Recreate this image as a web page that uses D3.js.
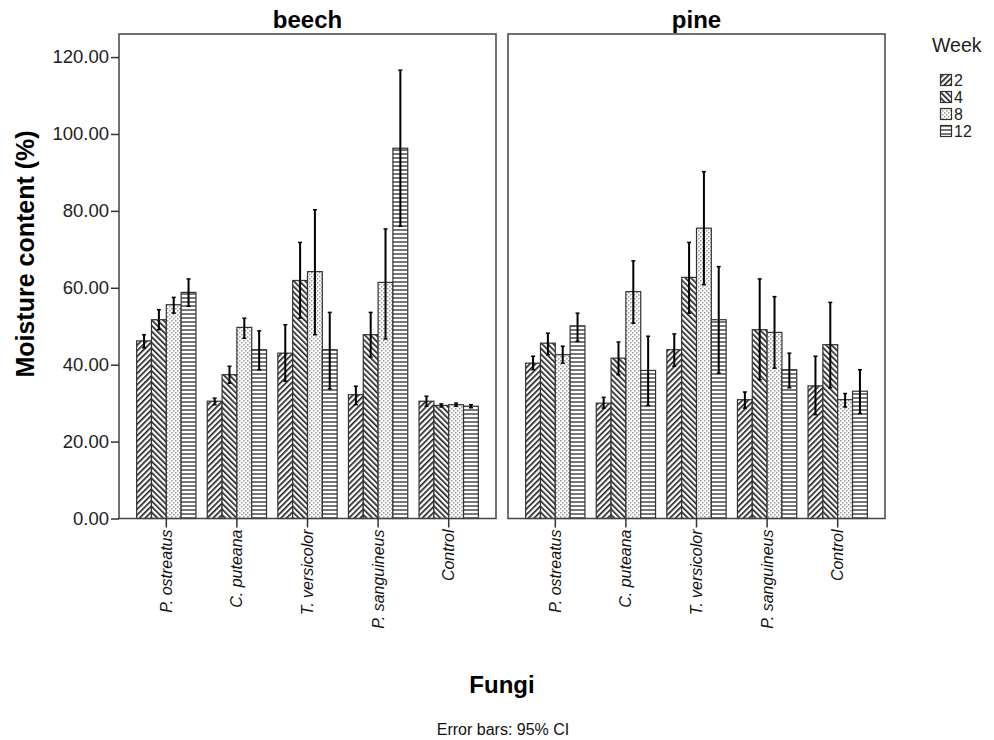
<!DOCTYPE html>
<html>
<head>
<meta charset="utf-8">
<script src="https://cdn.jsdelivr.net/npm/d3@7"></script>
<style>
  html, body { margin: 0; padding: 0; background: #fff; }
  svg { display: block; font-family: "Liberation Sans", Arial, sans-serif; }
</style>
</head>
<body>
<svg id="chart" width="994" height="740"></svg>
<script>
// Moisture content of beech and pine wood exposed to four fungi (plus control), by week
const fungi = ["P. ostreatus", "C. puteana", "T. versicolor", "P. sanguineus", "Control"];
const weeks = ["2", "4", "8", "12"];
const woods = ["beech", "pine"];
const yTicks = [0, 20, 40, 60, 80, 100, 120];

// rows: weeks 2, 4, 8, 12; columns follow `fungi`
const beechMean = [
  [46.2, 30.5, 43.0, 32.2, 30.5],
  [51.7, 37.4, 61.9, 47.8, 29.4],
  [55.6, 49.7, 64.2, 61.4, 29.6],
  [58.8, 43.9, 43.9, 96.3, 29.2]
];
const beechLow = [
  [44.4, 29.6, 35.7, 29.6, 29.2],
  [49.1, 35.2, 52.1, 42.0, 29.0],
  [53.4, 46.9, 47.8, 46.7, 29.2],
  [55.2, 38.7, 33.7, 76.0, 28.8]
];
const beechHigh = [
  [47.8, 31.3, 50.4, 34.4, 31.8],
  [54.3, 39.6, 71.8, 53.6, 29.8],
  [57.5, 52.1, 80.3, 75.3, 30.0],
  [62.3, 48.8, 53.6, 116.6, 29.6]
];
const pineMean = [
  [40.4, 30.0, 43.9, 30.9, 34.5],
  [45.6, 41.7, 62.7, 49.1, 45.2],
  [42.6, 59.0, 75.5, 48.4, 30.9],
  [50.1, 38.5, 51.7, 38.7, 33.1]
];
const pineLow = [
  [38.7, 28.7, 39.6, 28.7, 27.0],
  [42.6, 37.4, 53.4, 36.1, 34.0],
  [40.4, 50.8, 60.8, 39.1, 29.0],
  [46.1, 29.4, 37.8, 34.0, 27.3]
];
const pineHigh = [
  [42.2, 31.5, 48.0, 32.9, 42.2],
  [48.2, 45.9, 71.8, 62.3, 56.2],
  [44.8, 67.0, 90.2, 57.7, 32.5],
  [53.4, 47.4, 65.5, 43.0, 38.7]
];

const panelData = {
  beech: { mean: beechMean, low: beechLow, high: beechHigh },
  pine: { mean: pineMean, low: pineLow, high: pineHigh }
};

const svg = d3.select("#chart");

// ---- fill patterns, one per week ----
const defs = svg.append("defs");
function hatch(id, angle) {
  const s = 4;
  const p = defs.append("pattern")
    .attr("id", id).attr("patternUnits", "userSpaceOnUse")
    .attr("width", s).attr("height", s)
    .attr("patternTransform", `rotate(${angle})`);
  p.append("rect").attr("width", s).attr("height", s).attr("fill", "#fff");
  p.append("rect").attr("x", 0).attr("width", 1.6).attr("height", s).attr("fill", "#1a1a1a");
}
hatch("pat-w2", 45);
hatch("pat-w4", -45);
{
  const p = defs.append("pattern")
    .attr("id", "pat-w8").attr("patternUnits", "userSpaceOnUse")
    .attr("width", 4).attr("height", 4);
  p.append("rect").attr("width", 4).attr("height", 4).attr("fill", "#fff");
  p.append("rect").attr("x", 0).attr("y", 0).attr("width", 1.5).attr("height", 1.5).attr("fill", "#999");
  p.append("rect").attr("x", 2).attr("y", 2).attr("width", 1.5).attr("height", 1.5).attr("fill", "#999");
}
{
  const p = defs.append("pattern")
    .attr("id", "pat-w12").attr("patternUnits", "userSpaceOnUse")
    .attr("width", 4).attr("height", 4);
  p.append("rect").attr("width", 4).attr("height", 4).attr("fill", "#fff");
  p.append("rect").attr("y", 1).attr("width", 4).attr("height", 2).attr("fill", "#777");
}
const patternFor = w => `url(#pat-w${w})`;

// ---- layout ----
const panelW = 377;
const panelTop = 34;
const panelBottom = 518.5;
const panelLeft = { beech: 119, pine: 508 };

const y = d3.scaleLinear().domain([0, 126]).range([panelBottom, panelTop]);
const x0 = d3.scaleBand().domain(fungi).range([0, panelW]).paddingInner(0.16).paddingOuter(0.25);
const x1 = d3.scaleBand().domain(weeks).range([0, x0.bandwidth()]).padding(0);

woods.forEach(wood => {
  const g = svg.append("g").attr("transform", `translate(${panelLeft[wood]},0)`);
  const d = panelData[wood];

  // bars
  weeks.forEach((w, wi) => {
    fungi.forEach((f, fi) => {
      const bx = x0(f) + x1(w);
      g.append("rect")
        .attr("x", bx)
        .attr("y", y(d.mean[wi][fi]))
        .attr("width", x1.bandwidth())
        .attr("height", y(0) - y(d.mean[wi][fi]))
        .attr("fill", patternFor(w))
        .attr("stroke", "#333")
        .attr("stroke-width", 1.2);
    });
  });

  // error bars (95% CI)
  weeks.forEach((w, wi) => {
    fungi.forEach((f, fi) => {
      const cx = x0(f) + x1(w) + x1.bandwidth() / 2;
      const lo = y(d.low[wi][fi]), hi = y(d.high[wi][fi]);
      g.append("line").attr("x1", cx).attr("x2", cx).attr("y1", lo).attr("y2", hi)
        .attr("stroke", "#000").attr("stroke-width", 2);
      [lo, hi].forEach(v => {
        g.append("line").attr("x1", cx - 2).attr("x2", cx + 2).attr("y1", v).attr("y2", v)
          .attr("stroke", "#000").attr("stroke-width", 1.5);
      });
    });
  });

  // panel frame
  g.append("rect")
    .attr("x", 0).attr("y", panelTop)
    .attr("width", panelW).attr("height", panelBottom - panelTop)
    .attr("fill", "none").attr("stroke", "#444").attr("stroke-width", 1.5);

  // category axis
  const xAxis = g.append("g").attr("transform", `translate(0,${panelBottom})`)
    .call(d3.axisBottom(x0).tickSize(9).tickSizeOuter(0).tickFormat(""));
  xAxis.select(".domain").remove();
  xAxis.selectAll(".tick line").attr("stroke", "#333").attr("stroke-width", 1.5);
  xAxis.selectAll(".tick").append("text")
    .attr("transform", "rotate(-90)")
    .attr("x", -11).attr("y", 5.5)
    .attr("text-anchor", "end")
    .attr("fill", "#111")
    .style("font-size", "16px")
    .style("font-style", "italic")
    .text(f => f);

  // panel title
  svg.append("text")
    .attr("x", panelLeft[wood] + panelW / 2).attr("y", 28)
    .attr("text-anchor", "middle")
    .style("font-size", "24px").style("font-weight", "bold")
    .attr("fill", "#000")
    .text(wood);

  if (wood === "beech") {
    const yAxis = g.append("g")
      .call(d3.axisLeft(y).tickValues(yTicks).tickSize(8).tickFormat(d3.format(".2f")));
    yAxis.select(".domain").remove();
    yAxis.selectAll(".tick line").attr("stroke", "#333").attr("stroke-width", 1.5);
    yAxis.selectAll(".tick text")
      .attr("x", -10)
      .attr("fill", "#222")
      .style("font-size", "18.5px")
      .style("font-family", "\"Liberation Sans\", Arial, sans-serif");
  }
});

// axis titles
svg.append("text")
  .attr("transform", "translate(34,254) rotate(-90)")
  .attr("text-anchor", "middle")
  .style("font-size", "25px").style("font-weight", "bold")
  .attr("fill", "#000")
  .text("Moisture content (%)");

svg.append("text")
  .attr("x", 502).attr("y", 693)
  .attr("text-anchor", "middle")
  .style("font-size", "24px").style("font-weight", "bold")
  .attr("fill", "#000")
  .text("Fungi");

svg.append("text")
  .attr("x", 503).attr("y", 735)
  .attr("text-anchor", "middle")
  .style("font-size", "16px")
  .attr("fill", "#111")
  .text("Error bars: 95% CI");

// legend
const legend = svg.append("g").attr("transform", "translate(932,0)");
legend.append("text")
  .attr("x", 0).attr("y", 52)
  .style("font-size", "19.5px")
  .attr("fill", "#222")
  .text("Week");
weeks.forEach((w, i) => {
  const ly = 74 + i * 17;
  legend.append("rect")
    .attr("x", 8.5).attr("y", ly + 0.5)
    .attr("width", 11).attr("height", 11)
    .attr("fill", patternFor(w))
    .attr("stroke", "#333").attr("stroke-width", 1.2);
  legend.append("text")
    .attr("x", 22).attr("y", ly + 11.5)
    .style("font-size", "16px")
    .attr("fill", "#222")
    .text(w);
});
</script>
</body>
</html>
